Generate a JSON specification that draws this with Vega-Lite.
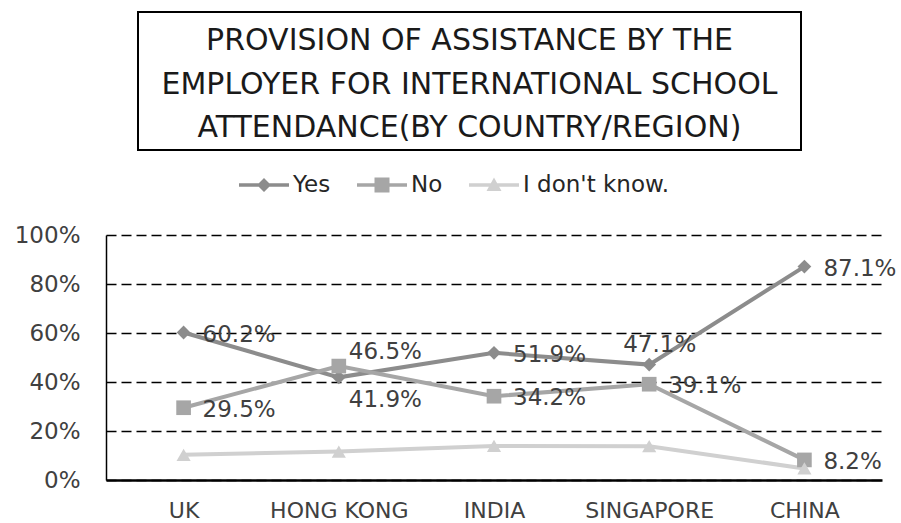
{
  "$schema": "https://vega.github.io/schema/vega-lite/v6.json",
  "padding": {"left": 14, "top": 11, "right": 0, "bottom": 0},
  "background": "white",
  "config": {
    "font": "DejaVu Sans",
    "view": {"stroke": null}
  },
  "spacing": 9,
  "resolve": {"scale": {"color": "independent"}, "legend": {"color": "independent"}},
  "vconcat": [
    {
      "spacing": 27,
      "hconcat": [
        {
          "width": 1,
          "height": 138,
          "data": {"values": [{"a": 1}]},
          "mark": {"type": "point", "opacity": 0},
          "view": {"stroke": null}
        },
        {
          "width": 663,
          "height": 138,
          "view": {"stroke": "black", "strokeWidth": 2},
          "data": {"values": [{"t": "PROVISION OF ASSISTANCE BY THE\nEMPLOYER FOR INTERNATIONAL SCHOOL\nATTENDANCE(BY COUNTRY/REGION)"}]},
          "mark": {"type": "text", "lineBreak": "\n", "lineHeight": 43.5, "fontSize": 30, "align": "center", "baseline": "middle", "dy": -40, "color": "#1a1a1a", "font": "DejaVu Sans"},
          "encoding": {"text": {"field": "t"}}
        }
      ]
    },
    {
      "width": 776,
      "height": 245,
      "data": {"values": [
        {"country": "UK", "series": "Yes", "value": 0.602},
        {"country": "HONG KONG", "series": "Yes", "value": 0.419},
        {"country": "INDIA", "series": "Yes", "value": 0.519},
        {"country": "SINGAPORE", "series": "Yes", "value": 0.471},
        {"country": "CHINA", "series": "Yes", "value": 0.871},
        {"country": "UK", "series": "No", "value": 0.295},
        {"country": "HONG KONG", "series": "No", "value": 0.465},
        {"country": "INDIA", "series": "No", "value": 0.342},
        {"country": "SINGAPORE", "series": "No", "value": 0.391},
        {"country": "CHINA", "series": "No", "value": 0.082},
        {"country": "UK", "series": "I don't know.", "value": 0.103},
        {"country": "HONG KONG", "series": "I don't know.", "value": 0.116},
        {"country": "INDIA", "series": "I don't know.", "value": 0.139},
        {"country": "SINGAPORE", "series": "I don't know.", "value": 0.138},
        {"country": "CHINA", "series": "I don't know.", "value": 0.047}
      ]},
      "encoding": {
        "x": {
          "field": "country", "type": "nominal", "sort": null,
          "axis": {"title": null, "labelAngle": 0, "labelFontSize": 22, "labelColor": "#404040", "labelPadding": 20, "ticks": false, "domainColor": "black", "domainWidth": 2.5, "grid": false, "labelOverlap": false, "labelLimit": 300}
        },
        "y": {
          "field": "value", "type": "quantitative", "scale": {"domain": [0, 1]},
          "axis": {"title": null, "values": [0, 0.2, 0.4, 0.6, 0.8, 1], "format": ".0%", "labelFontSize": 23, "labelColor": "#404040", "labelPadding": 26, "ticks": false, "domain": true, "domainColor": "black", "domainWidth": 1.5, "grid": true, "gridColor": "black", "gridDash": [10, 5], "gridWidth": 1.5}
        },
        "color": {
          "field": "series", "type": "nominal",
          "scale": {"domain": ["Yes", "No", "I don't know."], "range": ["#8c8c8c", "#a6a6a6", "#d0d0d0"]},
          "legend": {
            "orient": "none", "legendX": 133, "legendY": -75, "direction": "horizontal", "title": null,
            "labelFontSize": 23, "labelColor": "#262626", "labelLimit": 300,
            "symbolSize": 2500, "labelOffset": 4, "columnPadding": 26, "padding": 0,
            "symbolStrokeWidth": 0, "symbolOpacity": 1,
            "encode": {
              "symbols": {
                "update": {
                  "shape": {"signal": "datum.value === 'Yes' ? 'M-1,-0.07H1V0.07H-1ZM0,-0.28L0.28,0L0,0.28L-0.28,0Z' : datum.value === 'No' ? 'M-1,-0.07H1V0.07H-1ZM-0.3,-0.3H0.3V0.3H-0.3Z' : 'M-1,-0.07H1V0.07H-1ZM0,-0.3L0.3,0.24L-0.3,0.24Z'"},
                  "fill": {"signal": "datum.value === 'Yes' ? '#8c8c8c' : datum.value === 'No' ? '#a6a6a6' : '#d0d0d0'"},
                  "strokeWidth": {"value": 0},
                  "opacity": {"value": 1}
                }
              }
            }
          }
        }
      },
      "layer": [
        {"mark": {"type": "line", "strokeWidth": 4}},
        {"transform": [{"filter": "datum.series === 'Yes'"}], "mark": {"type": "point", "filled": true, "opacity": 1, "shape": "diamond", "size": 190}},
        {"transform": [{"filter": "datum.series === 'No'"}], "mark": {"type": "point", "filled": true, "opacity": 1, "shape": "square", "size": 215}},
        {"transform": [{"filter": "datum.series !== 'Yes' && datum.series !== 'No'"}], "mark": {"type": "point", "filled": true, "opacity": 1, "shape": "triangle-up", "size": 200}},
        {
          "transform": [{"filter": "(datum.series === 'Yes' || datum.series === 'No') && datum.country !== 'HONG KONG' && !(datum.country === 'SINGAPORE' && datum.series === 'Yes')"}],
          "mark": {"type": "text", "fontSize": 23, "align": "left", "baseline": "middle", "dx": 19, "dy": 2},
          "encoding": {"text": {"field": "value", "format": ".1%"}, "color": {"value": "#404040"}}
        },
        {
          "transform": [{"filter": "datum.country === 'HONG KONG' && datum.series === 'Yes'"}],
          "mark": {"type": "text", "fontSize": 23, "align": "left", "baseline": "middle", "dx": 10, "dy": 23},
          "encoding": {"text": {"field": "value", "format": ".1%"}, "color": {"value": "#404040"}}
        },
        {
          "transform": [{"filter": "datum.country === 'HONG KONG' && datum.series === 'No'"}],
          "mark": {"type": "text", "fontSize": 23, "align": "left", "baseline": "middle", "dx": 10, "dy": -14},
          "encoding": {"text": {"field": "value", "format": ".1%"}, "color": {"value": "#404040"}}
        },
        {
          "transform": [{"filter": "datum.country === 'SINGAPORE' && datum.series === 'Yes'"}],
          "mark": {"type": "text", "fontSize": 23, "align": "left", "baseline": "middle", "dx": -26, "dy": -20},
          "encoding": {"text": {"field": "value", "format": ".1%"}, "color": {"value": "#404040"}}
        }
      ]
    }
  ]
}
